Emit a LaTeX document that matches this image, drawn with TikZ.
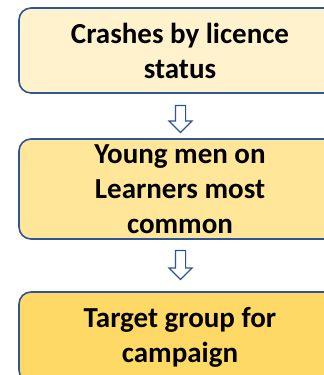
\documentclass[tikz,border=0pt]{standalone}
\usepackage{fontspec}
\setmainfont{Carlito}
\usetikzlibrary{shapes.arrows}

\definecolor{boxblue}{HTML}{2F5597}
\definecolor{paleyellow}{HTML}{FFF2CC}
\definecolor{midyellow}{HTML}{FFE699}
\definecolor{deepyellow}{HTML}{FFD966}

\begin{document}
\begin{tikzpicture}[x=1pt, y=-1pt,
    stepbox/.style={draw=boxblue, line width=1.6pt, rounded corners=12pt,
        minimum width=322pt, align=center, inner sep=0pt,
        font=\fontsize{29}{35}\selectfont\bfseries},
    downarrow/.style={single arrow, draw=boxblue, line width=1.2pt, fill=white,
        rotate=-90, inner xsep=0pt, inner ysep=4.5pt,
        single arrow head extend=6.5pt, single arrow head indent=0pt}]
    \useasboundingbox (0,0) rectangle (324,375);
    \clip (0,0) rectangle (324,375);

    \node[stepbox, fill=paleyellow, minimum height=85pt] (crashes) at (180, 50.5)
        {Crashes by licence\\status};
    \node[stepbox, fill=midyellow, minimum height=100pt] (learners) at (180, 189)
        {Young men on\\Learners most\\common};
    \node[stepbox, fill=deepyellow, minimum height=90pt] (target) at (180, 337)
        {Target group for\\campaign};

    % hollow arrows between the boxes
    \node[downarrow, minimum height=27pt] (step1) at (180.5, 116.5) {};
    \node[downarrow, minimum height=29pt] (step2) at (180.5, 262.5) {};
\end{tikzpicture}
\end{document}
